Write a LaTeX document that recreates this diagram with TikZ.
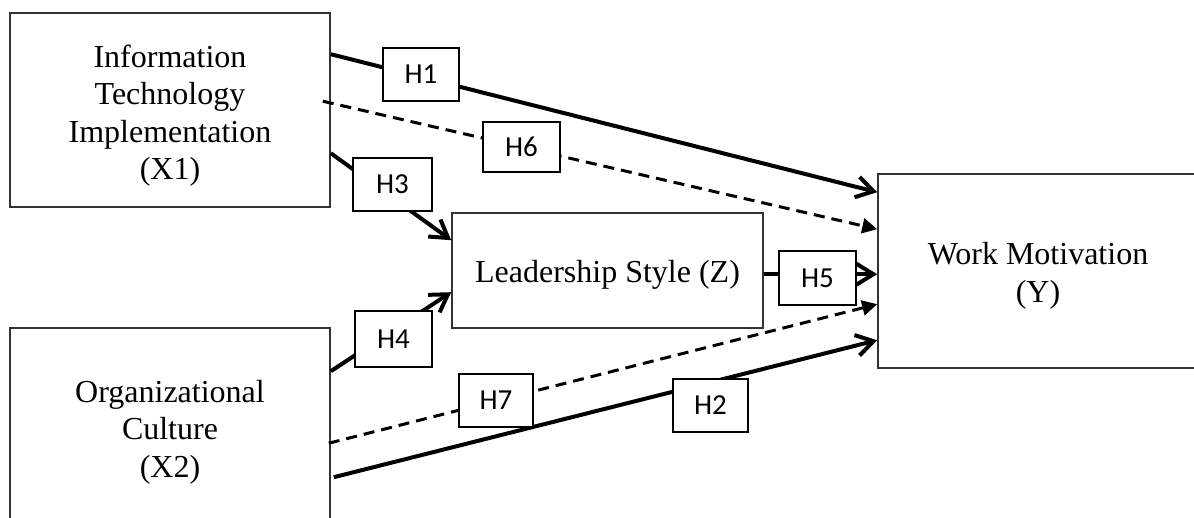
\documentclass[tikz,border=0pt]{standalone}
\usepackage{fontspec}
\setmainfont{Liberation Serif}
\newfontfamily\labelfont{Carlito}
\usetikzlibrary{arrows.meta,calc}
\newcommand{\mybt}[2]{\raisebox{-#1pt}[\height][\depth]{\begin{tabular}{@{}c@{}}#2\end{tabular}}}
\begin{document}
\begin{tikzpicture}[x=1pt,y=-1pt,
  mainbox/.style={draw=black!80,line width=1.6pt,inner sep=0pt,font=\fontsize{32}{37.5}\selectfont},
  hbox/.style={draw=black,line width=1.6pt,fill=white,inner sep=0pt,font=\labelfont\fontsize{29}{34}\selectfont},
  solidarrow/.style={line width=4pt,-{Straight Barb[length=17pt,width=21pt,line width=4pt]}},
  dasharrow/.style={line width=3pt,dash pattern=on 11pt off 7pt,-{Triangle[length=15pt,width=15pt]}}
]
\useasboundingbox (0,0) rectangle (1194,517);
\begin{scope}
\clip (0,0) rectangle (1194,517);
% main boxes
\node[mainbox,minimum width=320pt,minimum height=194pt] (x1) at (170,110) {\mybt{6}{Information\\Technology\\Implementation\\(X1)}};
\node[mainbox,minimum width=320pt,minimum height=202pt] (x2) at (170,429) {\mybt{3}{Organizational\\Culture\\(X2)}};
\node[mainbox,minimum width=311pt,minimum height=115pt] (z) at (607.5,270.5) {\mybt{4}{Leadership Style (Z)}};
\node[mainbox,minimum width=320pt,minimum height=194pt] (y) at (1038,271) {\mybt{5}{Work Motivation\\(Y)}};
% connectors
\draw[solidarrow] ($(x1.north east)+(0,42)$) -- ($(y.north west)+(0,19)$);
\draw[dasharrow] ($(x1.north east)+(-8,89)$) -- ($(y.north west)+(0,56)$);
\draw[solidarrow] ($(x1.north east)+(0,141)$) -- ($(z.north west)+(0,28)$);
\draw[solidarrow] ($(x2.north east)+(0,44)$) -- ($(z.north west)+(0,80)$);
\draw[solidarrow] ($(z.north east)+(0,62)$) -- ($(y.north west)+(0,101)$);
\draw[dasharrow] ($(x2.north east)+(-2,116)$) -- ($(y.north west)+(0,131)$);
\draw[solidarrow] ($(x2.north east)+(3,150)$) -- ($(y.north west)+(0,167)$);
% hypothesis labels
\node[hbox,minimum width=76pt,minimum height=53pt] (h1) at (421,74.5) {H1};
\node[hbox,minimum width=77pt,minimum height=50pt] (h6) at (521.5,147) {H6};
\node[hbox,minimum width=79pt,minimum height=53pt] (h3) at (392.5,184.5) {H3};
\node[hbox,minimum width=77pt,minimum height=56pt] (h4) at (393.5,339) {H4};
\node[hbox,minimum width=77pt,minimum height=54pt] (h5) at (817.5,278) {H5};
\node[hbox,minimum width=74pt,minimum height=53pt] (h7) at (496,400.5) {H7};
\node[hbox,minimum width=75pt,minimum height=53pt] (h2) at (710.5,405.5) {H2};
\end{scope}
\end{tikzpicture}
\end{document}
